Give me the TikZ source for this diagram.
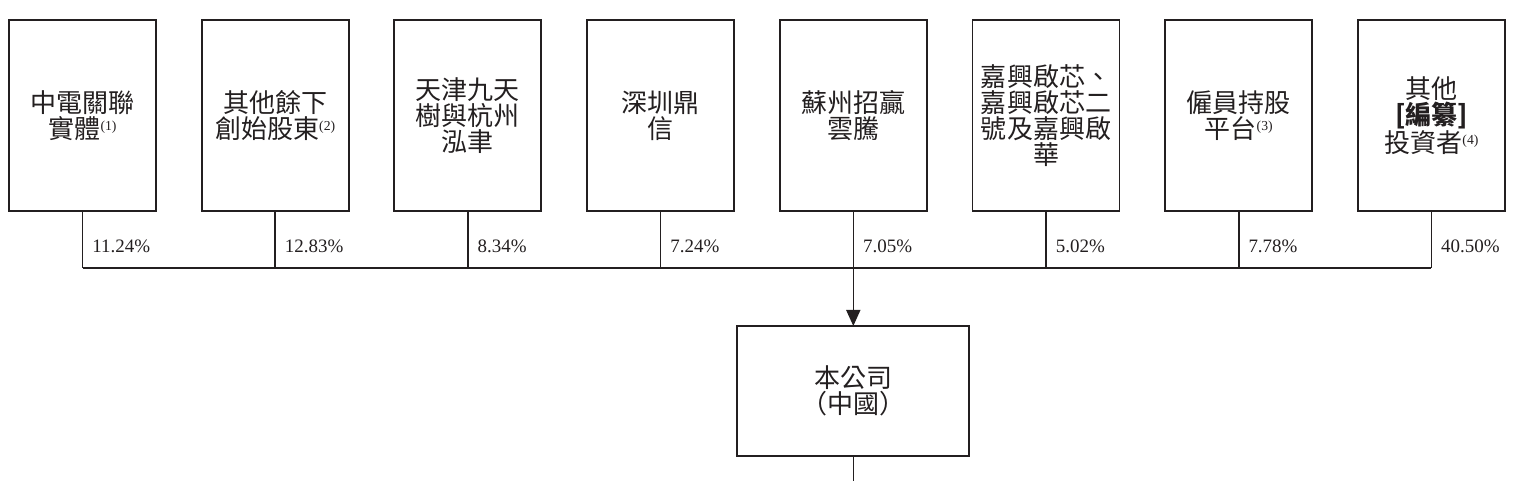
\documentclass[tikz,border=0pt]{standalone}
\usepackage{fontspec}
\setmainfont{Liberation Serif}
\newfontfamily\cjk{Noto Sans CJK TC}
\usetikzlibrary{positioning,arrows.meta}
\definecolor{SHInk}{HTML}{231F20}
\newcommand\fnref[1]{\raisebox{4.5pt}{\normalfont\fontsize{7.8}{8}\selectfont(#1)}}

\tikzset{
  holder/.style={draw=SHInk,text=SHInk,line width=1.1pt,outer sep=0pt,minimum width=29.4mm,minimum height=38.2mm,inner sep=0pt,align=center,font=\cjk\fontsize{14.8}{14.8}\selectfont},
  conn/.style={draw=SHInk,line width=0.9pt},
  pct/.style={pos=0.62,anchor=west,inner sep=0pt,xshift=1.8mm,text=SHInk,font=\fontsize{10.8}{12}\selectfont},
}

\begin{document}
\begin{tikzpicture}
\useasboundingbox (0,0) rectangle (30.34,-9.62);
\node[holder] (s1) at (1.65,-2.31) {中電關聯\\實體\fnref{1}};
\node[holder,right=9.14mm of s1] (s2) {其他餘下\\創始股東\fnref{2}};
\node[holder,right=9.14mm of s2] (s3) {天津九天\\樹與杭州\\泓聿};
\node[holder,right=9.14mm of s3] (s4) {深圳鼎\\信};
\node[holder,right=9.14mm of s4] (s5) {蘇州招贏\\雲騰};
\node[holder,right=9.14mm of s5] (s6) {嘉興啟芯、\\嘉興啟芯二\\號及嘉興啟\\華};
\node[holder,right=9.14mm of s6] (s7) {僱員持股\\平台\fnref{3}};
\node[holder,right=9.14mm of s7] (s8) {其他\\{\bfseries[編纂]}\\投資者\fnref{4}};
\node[holder,below=23mm of s5,minimum width=46.4mm,minimum height=26mm] (co) {本公司\\（中國）};
\path (co.south) ++(0,-0.5) coordinate (tail);

% drops to the bus line, with the holdings
\foreach \i/\p in {1/11.24,2/12.83,3/8.34,4/7.24,5/7.05,6/5.02,7/7.78,8/40.50}
  \draw[conn] (s\i.south) -- node[pct] {\p\%} ++(0,-1.14) coordinate (b\i);
\draw[conn] (b1) -- (b8);
\draw[conn,-{Triangle[width=2.8mm,length=3.2mm]}] (b5) -- (co);
\draw[conn] (co) -- (tail);
\end{tikzpicture}
\end{document}
